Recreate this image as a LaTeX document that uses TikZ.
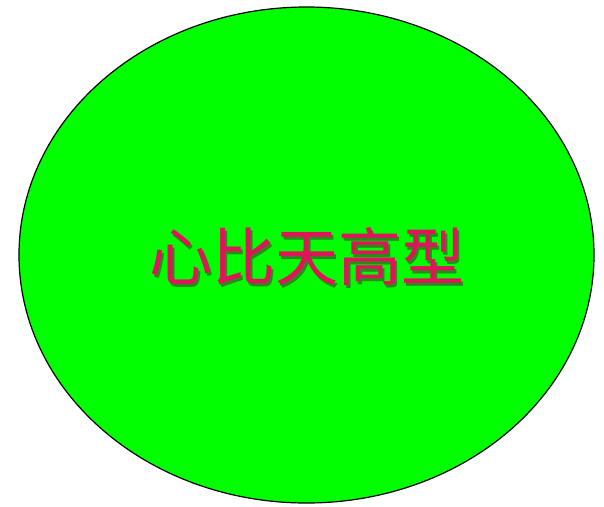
\documentclass[tikz,border=0pt]{standalone}
\usepackage{fontspec}
\usetikzlibrary{shapes.geometric}
\newfontfamily\cjk{Noto Sans CJK SC}
\definecolor{fillgreen}{RGB}{0,255,0}
\definecolor{txtred}{RGB}{225,20,90}
\definecolor{shadowc}{RGB}{60,90,40}
\newcommand{\shadowed}[1]{\rlap{\kern2.5pt\raisebox{-2.5pt}{\textcolor{shadowc!70!fillgreen}{#1}}}#1}
\begin{document}
\begin{tikzpicture}[x=1pt,y=-1pt,
  title/.style={font=\cjk\fontsize{63}{63}\selectfont, inner sep=0pt, text=txtred}]
\useasboundingbox (0,0) rectangle (604,506);
\node[draw=black, line width=1.2pt, fill=fillgreen, ellipse, minimum width=575pt, minimum height=496pt, inner sep=0pt] (blob) at (306.5,255) {};
\node[title] (lbl) at (306.5,258) {\shadowed{心比天高型}};
\end{tikzpicture}
\end{document}
